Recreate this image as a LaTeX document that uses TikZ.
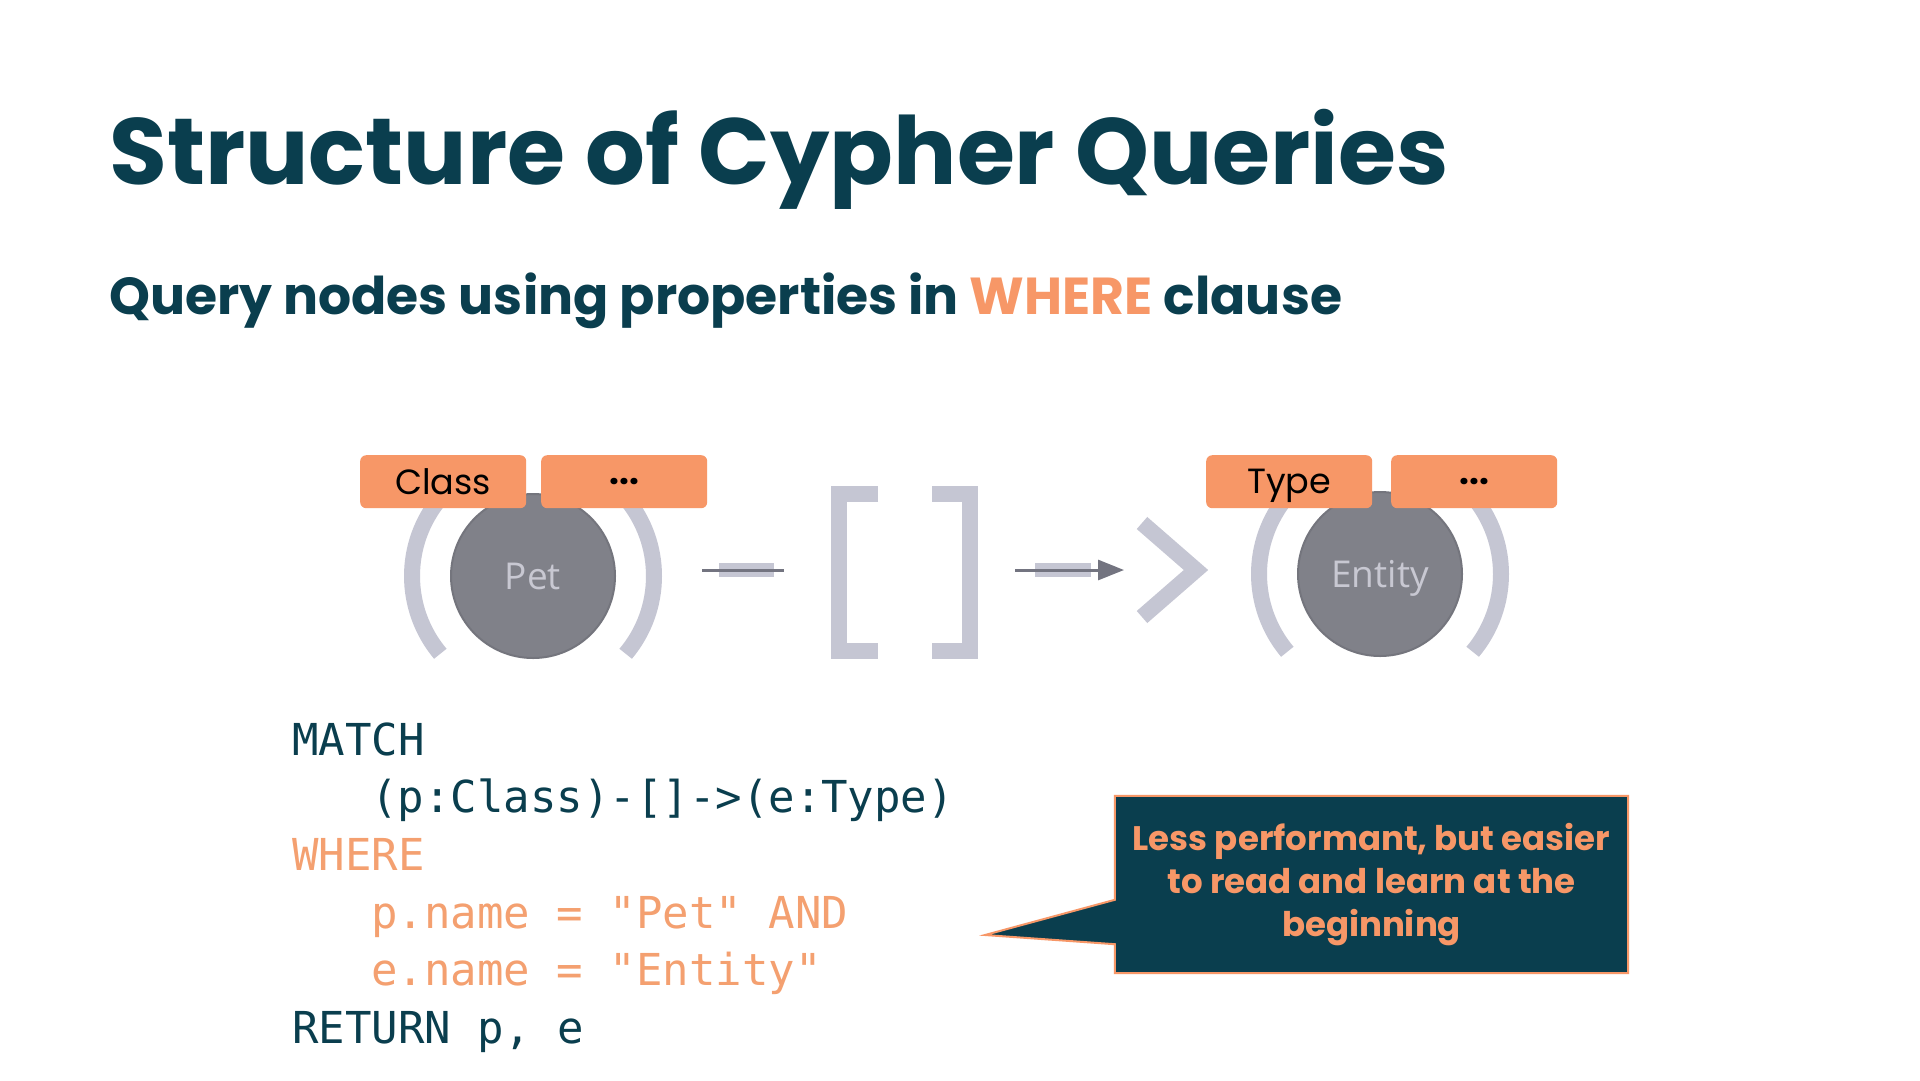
\documentclass[tikz,border=0pt]{standalone}
\usepackage{fontspec}
\setmainfont{Poppins}
\newfontfamily\codefont{DejaVu Sans Mono}
\newfontfamily\labelfont{Open Sans}
\usetikzlibrary{calc, positioning}
\usetikzlibrary{arrows.meta}
\usetikzlibrary{backgrounds}

\definecolor{neoteal}{RGB}{10,62,78}
\definecolor{neoorange}{RGB}{247,151,103}
\definecolor{codeorange}{RGB}{244,160,112}
\definecolor{parengray}{RGB}{197,198,211}
\definecolor{nodegray}{RGB}{128,129,137}
\definecolor{nodeedge}{RGB}{116,117,125}
\definecolor{textgray}{RGB}{200,200,210}
\definecolor{linkgray}{RGB}{115,116,128}

\tikzset{
  paren/.style={line width=16, parengray},
  gnode/.style={circle, fill=nodegray, draw=nodeedge, line width=2, minimum size=164,
    inner sep=0, text=textgray, text depth=0pt, font=\labelfont\fontsize{37}{40}\selectfont},
  labelbox/.style={rectangle, rounded corners=6, fill=neoorange, minimum width=166,
    minimum height=53, inner sep=0, text=black, text depth=0pt, anchor=north west,
    font=\fontsize{35}{40}\selectfont},
  codeline/.style={anchor=base west, inner sep=0, font=\codefont\fontsize{44}{50}\selectfont},
  linkbar/.style={fill=parengray},
  linkline/.style={line width=3, linkgray},
}

\begin{document}
\begin{tikzpicture}[x=1pt,y=-1pt]
\useasboundingbox (0,0) rectangle (1920,1080);
\def\parenrad{121}
\def\parenspan{40}

% heading
\node[anchor=base west, inner sep=0, text=neoteal, font=\fontsize{94}{100}\selectfont\bfseries] (title) at (109,184) {Structure of Cypher Queries};
\node[anchor=base west, inner sep=0, text=neoteal, font=\fontsize{52}{56}\selectfont\bfseries] (subtitle) at (109,314) {Query nodes using properties in \textcolor{neoorange}{WHERE} clause};

% pattern (p:Class)-[]->(e:Type)
\coordinate (PetC) at (533,576);
\coordinate (EntC) at (1380,574);

\draw[paren] ($(PetC)+(180-\parenspan:\parenrad)$) arc (180-\parenspan:180+\parenspan:\parenrad);
\draw[paren] ($(PetC)+(-\parenspan:\parenrad)$) arc (-\parenspan:\parenspan:\parenrad);
\node[gnode] (pet) at (PetC) {Pet};

\draw[paren] ($(EntC)+(180-\parenspan:\parenrad)$) arc (180-\parenspan:180+\parenspan:\parenrad);
\draw[paren] ($(EntC)+(-\parenspan:\parenrad)$) arc (-\parenspan:\parenspan:\parenrad);
\node[gnode] (entity) at (EntC) {Entity};

\node[labelbox] (classbox) at (360,455) {Class};
\node[labelbox] (petmore) at (541,455) {\bfseries ...};
\node[labelbox] (typebox) at (1206,455) {Type};
\node[labelbox] (entmore) at (1391,455) {\bfseries ...};

% dash
\coordinate (dashL) at (702,570);
\coordinate (dashR) at (784,570);
\fill[linkbar] (719,563) rectangle (774,577);
\draw[linkline] (dashL) -- (dashR);

% brackets
\draw[paren, line join=miter] (878,494) -- (839,494) -- (839,651) -- (878,651);
\draw[paren, line join=miter] (932,494) -- (970,494) -- (970,651) -- (932,651);

% arrow
\coordinate (arrL) at (1015,570);
\coordinate (arrR) at (1124,570);
\fill[linkbar] (1035,563) rectangle (1091,577);
\draw[linkline, -{Triangle[length=26, width=20]}] (arrL) -- (arrR);
\draw[paren, line join=miter] (1142,523) -- (1196,570) -- (1142,617);

% query text
\node[codeline, text=neoteal] (code1) at (292,755) {MATCH};
\node[codeline, text=neoteal] (code2) at (371,812) {(p:Class)-[]->(e:Type)};
\node[codeline, text=codeorange] (code3) at (292,870) {WHERE};
\node[codeline, text=codeorange] (code4) at (371,928) {p.name = "Pet" AND};
\node[codeline, text=codeorange] (code5) at (371,985) {e.name = "Entity"};
\node[codeline, text=neoteal] (code6) at (292,1043) {RETURN p, e};

% callout
\node[minimum width=513, minimum height=177, inner sep=0, align=center, text=neoorange,
  font=\fontsize{34}{43}\selectfont\bfseries] (note) at (1371.5,884.5)
  {Less performant, but easier\\to read and learn at the\\beginning};
\coordinate (tip) at (985,935);
\begin{pgfonlayer}{background}
\fill[white] (0,0) rectangle (1920,1080);
\filldraw[fill=neoteal, draw=neoorange, line width=2]
  (note.north west) -- (note.north east) -- (note.south east) -- (note.south west)
  -- ($(note.south west)+(0,-29)$) -- (tip) -- ($(note.north west)+(0,104)$) -- cycle;
\end{pgfonlayer}
\end{tikzpicture}
\end{document}
